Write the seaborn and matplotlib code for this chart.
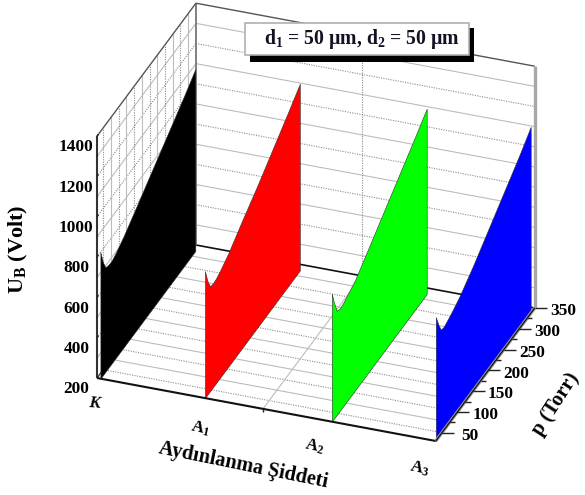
import numpy as np
import matplotlib
matplotlib.use("Agg")
import matplotlib.pyplot as plt
from matplotlib.patches import Rectangle
from mpl_toolkits.mplot3d import proj3d
import seaborn as sns

# ---- data ----
categories = ["K", "A1", "A2", "A3"]
intensity = [0.01, 0.3186, 0.693, 1.0]
pressure = [30, 38, 46, 55, 66, 80, 105, 150, 200, 250, 300, 337]
ub_k  = [828, 762, 720, 712, 710, 722, 752, 818, 893, 968, 1043, 1103]
ub_a1 = [830, 765, 722, 716, 720, 733, 762, 832, 905, 985, 1065, 1127]
ub_a2 = [835, 770, 718, 708, 712, 725, 747, 818, 898, 978, 1058, 1120]
ub_a3 = [815, 762, 720, 714, 722, 733, 758, 820, 900, 980, 1060, 1126]
series = [ub_k, ub_a1, ub_a2, ub_a3]
wall_colors = ["#000000", "#ff0000", "#00ff00", "#0000ff"]
z_ticks = [200, 400, 600, 800, 1000, 1200, 1400]
y_ticks = [50, 100, 150, 200, 250, 300, 350]
x_grid = [0.49]
x_tick_text = [r"$\mathit{K}$", r"$\mathrm{A}_{\mathit{1}}$", r"$\mathrm{A}_{2}$", r"$\mathrm{A}_{3}$"]

sns.set_theme(style="white")
plt.rcParams["font.family"] = ["Liberation Serif", "DejaVu Serif"]
plt.rcParams["font.weight"] = "bold"
plt.rcParams["text.color"] = "black"
plt.rcParams["axes.labelcolor"] = "black"
plt.rcParams["xtick.color"] = "black"
plt.rcParams["ytick.color"] = "black"
plt.rcParams["mathtext.fontset"] = "custom"
plt.rcParams["mathtext.rm"] = "Liberation Serif:bold"
plt.rcParams["mathtext.it"] = "Liberation Serif:italic:bold"
plt.rcParams["mathtext.bf"] = "Liberation Serif:bold"
plt.rcParams["mathtext.default"] = "rm"
palette = sns.color_palette(wall_colors)

W, H = 585, 495
fig = plt.figure(figsize=(W / 100, H / 100), dpi=100, facecolor="white")
ax = fig.add_axes([-0.3, -0.3, 1.6, 1.6], projection="3d", computed_zorder=False, facecolor="none")
ax.set_proj_type("ortho")
ax.view_init(elev=30, azim=-69.6)
box = (361.7, 284.0, 279.4)
ax.set_box_aspect(box, zoom=1.0)

xmin, xmax, ymin, ymax, zmin, zmax = 0, 1, 30, 350, 200, 1400
yr = ymax - ymin

# ---- grid ----
SOLID = dict(color="#bcbcbc", lw=0.8, ls="-", zorder=1)
DOT = dict(color="#8c8c8c", lw=0.8, ls=(0, (1, 1.2)), zorder=1)
for z in range(300, 1400, 100):
    st = DOT if z % 200 == 0 else SOLID
    ax.plot([xmin, xmax], [ymax, ymax], [z, z], **st)
    ax.plot([xmin, xmin], [ymin, ymax], [z, z], **st)
for p in range(50, 350, 25):
    st = DOT if p % 50 == 0 else SOLID
    ax.plot([xmin, xmax], [p, p], [zmin, zmin], **st)
    ax.plot([xmin, xmin], [p, p], [zmin, zmax], **st)
for xg in x_grid:
    ax.plot([xg, xg], [ymin, ymax], [zmin, zmin], **SOLID)
    ax.plot([xg, xg], [ymax, ymax], [zmin, zmax], **DOT)

# ---- frame ----
def edge(a, b, color, lw, zorder=2):
    ax.plot([a[0], b[0]], [a[1], b[1]], [a[2], b[2]], color=color, lw=lw, zorder=zorder, solid_capstyle="butt")

edge((xmin, ymax, zmin), (xmax, ymax, zmin), "#111111", 1.2)
edge((xmin, ymin, zmin), (xmin, ymax, zmin), "#444444", 1.0)
edge((xmin, ymax, zmin), (xmin, ymax, zmax), "#808080", 1.4)
edge((xmin, ymax, zmax), (xmax, ymax, zmax), "#555555", 1.0)
edge((xmin, ymin, zmax), (xmin, ymax, zmax), "#555555", 1.0)
edge((xmax, ymax, zmin), (xmax, ymax, zmax), "#a8a8a8", 2.4)

# ---- walls ----
for xv, vals, col in zip(intensity, series, palette):
    n = len(pressure)
    ax.fill_between(np.full(n, xv), pressure, vals,
                    np.full(n, xv), pressure, np.full(n, zmin),
                    mode="polygon", facecolor=col, edgecolor="#303030",
                    linewidth=0.4, zorder=3 + intensity.index(xv))

# ---- front axes ----
edge((xmin, ymin, zmin), (xmax, ymin, zmin), "#111111", 1.5, 10)
edge((xmax, ymin, zmin), (xmax, ymax, zmin), "#999999", 2.4, 10)
edge((xmax, ymin, zmin), (xmax, ymax, zmin), "#111111", 0.9, 11)
edge((xmin, ymin, zmin), (xmin, ymin, zmax), "#333333", 1.5, 10)
# screen-horizontal tick direction on the pressure axis
tx, ty = 0.0311, 0.01473 * yr
for p in range(50, 351, 25):
    f = 1.0 if p % 50 == 0 else 0.45
    edge((xmax, p, zmin), (xmax + tx * f, p + ty * f, zmin), "#222222", 1.0, 10)
for z in range(200, 1401, 100):
    f = 0.015 if z % 200 == 0 else 0.008
    edge((xmin, ymin, z), (xmin, ymin + f * yr, z), "#222222", 1.0, 10)
for xg in x_grid:
    edge((xg, ymin, zmin), (xg, ymin, zmin - 15), "#222222", 1.0, 10)

# ---- axis limits, labels ----
ax.set_xlim(xmin, xmax, view_margin=0)
ax.set_ylim(ymin, ymax, view_margin=0)
ax.set_zlim(zmin, zmax, view_margin=0)
ax.set_xticks([])
ax.set_yticks([])
ax.set_zticks(z_ticks, [str(v) for v in z_ticks])
ax.grid(False)
for axis in (ax.xaxis, ax.yaxis, ax.zaxis):
    axis.set_pane_color((1, 1, 1, 0))
    axis.pane.set_edgecolor((1, 1, 1, 0))
    axis.line.set_color((1, 1, 1, 0))
    axis._axinfo["tick"].update(inward_factor=0, outward_factor=0)
ax.zaxis._axinfo["juggled"] = (1, 0, 2)
ax.tick_params(axis="z", labelsize=12.4, pad=6, labelcolor="black")
for t in ax.get_zticklabels():
    t.set_fontweight("bold")

# ---- align the box with the reference frame ----
def pix(pt):
    X, Y, _ = proj3d.proj_transform(pt[0], pt[1], pt[2], ax.M)
    d = ax.transData.transform((X, Y))
    return np.array([d[0], H - d[1]])

A3 = (xmin, ymin, zmin)
B3 = (xmax, ymax, zmax)
targetA, targetB = np.array([97.0, 378.0]), np.array([536.0, 68.0])
fig.canvas.draw()
scale = np.linalg.norm(targetB - targetA) / np.linalg.norm(pix(B3) - pix(A3))
ax.set_box_aspect(box, zoom=scale)
fig.canvas.draw()
off = targetA - pix(A3)
ax.set_position([-0.3 + off[0] / W, -0.3 - off[1] / H, 1.6, 1.6])
fig.canvas.draw()

# ---- labels placed at projected axis positions ----
def label_at(pt, s, **kw):
    q = pix(pt)
    fig.text(q[0] / W, 1 - q[1] / H, s, ha="center", va="center", color="black", fontweight="bold", **kw)

for p in y_ticks:
    label_at((xmax + 2.35 * tx, p + 2.35 * ty, zmin - 16), str(p), fontsize=12.4)

lab_x = [-0.003, 0.304, 0.643, 0.953]
lab_z = [71, 46, 59, 51]
lab_rot = [-4, -12, -12, -12]
for lx, lz, s, r in zip(lab_x, lab_z, x_tick_text, lab_rot):
    label_at((lx, ymin, lz), s, fontsize=12.2, rotation=r)

# ---- axis titles ----
fig.text(243 / W, 1 - 465 / H, "Aydınlanma Şiddeti", fontsize=14.6, fontweight="bold",
         rotation=-11.5, ha="center", va="center", color="black")
fig.text(18 / W, 1 - 249 / H, r"U$_{\mathrm{B}}$ (Volt)", fontsize=16, fontweight="bold",
         rotation=90, ha="center", va="center", color="black")
fig.text(556 / W, 1 - 404 / H, "p (Torr)", fontsize=14.8, fontweight="bold",
         rotation=57, ha="center", va="center", color="black")

# ---- annotation box ----
fig.add_artist(Rectangle((250 / W, 1 - 62 / H), 224 / W, 34 / H, transform=fig.transFigure,
                         facecolor="black", edgecolor="none", zorder=20))
fig.add_artist(Rectangle((245 / W, 1 - 55 / H), 224 / W, 32 / H, transform=fig.transFigure,
                         facecolor="white", edgecolor="#b0b0b0", lw=1.2, zorder=21))
fig.text(361.5 / W, 1 - 39 / H, "d$_1$ = 50 µm, d$_2$ = 50 µm", fontsize=14.2, fontweight="bold",
         ha="center", va="center", color="#111122", zorder=22)

fig.savefig("out.png", dpi=100)
